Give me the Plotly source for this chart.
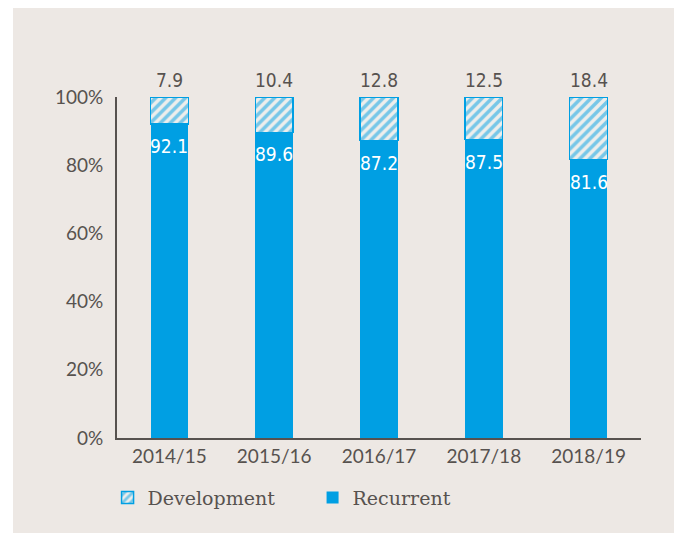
import plotly.graph_objects as go

years = ["2014/15", "2015/16", "2016/17", "2017/18", "2018/19"]
recurrent = [92.1, 89.6, 87.2, 87.5, 81.6]
development = [7.9, 10.4, 12.8, 12.5, 18.4]
y_ticks = [0, 20, 40, 60, 80, 100]
y_tick_labels = ["0%", "20%", "40%", "60%", "80%", "100%"]

BLUE = "#009FE3"
BG = "#EDE8E4"
TXT = "#57524F"
NUM_FONT = "Liberation Sans Narrow, DejaVu Sans Condensed, Roboto, sans-serif"

# figure is drawn offset by the page's 8px body margin
L, T, PW, PH = 109, 89, 524, 341
W, H = 682, 533

fig = go.Figure()
fig.add_trace(go.Bar(
    x=years, y=recurrent, name="Recurrent",
    marker=dict(color=BLUE, line=dict(width=0)),
    width=0.36,
))
fig.add_trace(go.Bar(
    x=years, y=development, name="Development",
    marker=dict(color=BG, line=dict(color=BLUE, width=1.5),
                pattern=dict(shape="/", fgcolor=BLUE, bgcolor="#EEEEEC", size=7, solidity=0.5)),
    width=0.36,
))

for yr, r, d in zip(years, recurrent, development):
    fig.add_annotation(x=yr, y=r + d, text=f"{d}", showarrow=False,
                       yanchor="middle", yshift=17,
                       font=dict(family=NUM_FONT, size=19, color=TXT))
    fig.add_annotation(x=yr, y=r, text=f"{r}", showarrow=False,
                       yanchor="middle", yshift=-22,
                       font=dict(family=NUM_FONT, size=19, color="white"))

fig.add_shape(type="rect", xref="paper", yref="paper",
              x0=(5 - L) / PW, x1=(667 - L) / PW,
              y0=(T + PH - H) / PH, y1=(T + PH + 1) / PH,
              fillcolor=BG, line=dict(width=0), layer="below")

fig.update_layout(
    width=W, height=H,
    margin=dict(l=L, r=W - L - PW, t=T, b=H - T - PH),
    paper_bgcolor="white", plot_bgcolor="rgba(0,0,0,0)",
    barmode="stack",
    font=dict(family="Lato, sans-serif", color=TXT, size=19),
    showlegend=True,
    legend=dict(orientation="h", traceorder="reversed",
                x=-0.018, xanchor="left", y=-0.175, yanchor="middle",
                bgcolor="rgba(0,0,0,0)",
                font=dict(family="DejaVu Serif, serif", size=19, color=TXT),
                entrywidth=160, entrywidthmode="pixels"),
)
fig.update_xaxes(showline=True, linecolor=TXT, linewidth=2, ticks="",
                 showgrid=False, tickfont=dict(size=19, color=TXT))
fig.update_yaxes(range=[0, 100], tickvals=y_ticks, ticktext=y_tick_labels,
                 showline=True, linecolor=TXT, linewidth=2, ticks="",
                 showgrid=False, zeroline=False, ticklabelstandoff=8,
                 tickfont=dict(size=19, color=TXT))

fig.write_html("out.html")
